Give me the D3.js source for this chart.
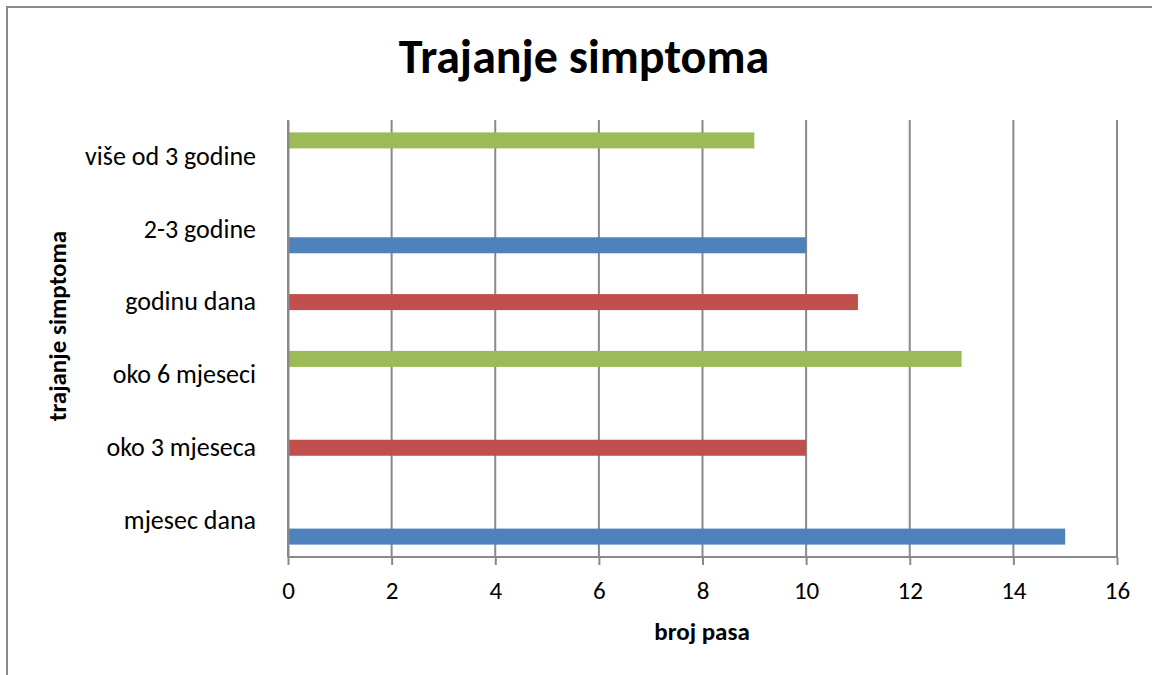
<!DOCTYPE html>
<html>
<head>
<meta charset="utf-8">
<script src="https://cdn.jsdelivr.net/npm/d3@7"></script>
<style>
  body { margin: 0; background: #fff; }
  text { font-family: Carlito, Calibri, Lato, sans-serif; fill: #000; }
</style>
</head>
<body>
<div id="chart-area"></div>
<script>
// data
const categories = ["više od 3 godine", "2-3 godine", "godinu dana", "oko 6 mjeseci", "oko 3 mjeseca", "mjesec dana"];
const seriesNames = ["Niz1", "Niz2", "Niz3"];
const niz1 = [0, 10, 0, 0, 0, 15];   // blue
const niz2 = [0, 0, 11, 0, 10, 0];   // red
const niz3 = [9, 0, 0, 13, 0, 0];    // green
const xTicks = [0, 2, 4, 6, 8, 10, 12, 14, 16];

const seriesValues = [niz1, niz2, niz3];
const colors = { Niz1: "#4F81BD", Niz2: "#C0504D", Niz3: "#9BBB59" };

// layout
const canvas = { width: 1152, height: 675 };
const plot = { left: 288, right: 1117, top: 120, bottom: 557 };
const gridColor = "#898989";

const svg = d3.select("#chart-area").append("svg")
    .attr("width", canvas.width).attr("height", canvas.height);

// chart frame (only top and left edges are inside the picture)
svg.append("path")
    .attr("d", "M7," + (canvas.height + 5) + " L7,7 L" + (canvas.width + 5) + ",7")
    .attr("fill", "none").attr("stroke", gridColor).attr("stroke-width", 2);

// scales
const x = d3.scaleLinear().domain([0, 16]).range([plot.left, plot.right]);
const y = d3.scaleBand().domain(categories).range([plot.top, plot.bottom])
    .paddingInner(0.34).paddingOuter(0.17);
const ySub = d3.scaleBand().domain(["Niz3", "Niz2", "Niz1"]).range([0, y.bandwidth()]);

// gridlines
svg.append("g").selectAll("line").data(xTicks).enter().append("line")
    .attr("x1", d => x(d)).attr("x2", d => x(d))
    .attr("y1", plot.top).attr("y2", plot.bottom)
    .attr("stroke", gridColor).attr("stroke-width", 2);

// bars
const rows = [];
seriesNames.forEach((s, i) => {
    categories.forEach((c, j) => {
        if (seriesValues[i][j] > 0) rows.push({ series: s, category: c, value: seriesValues[i][j] });
    });
});

svg.append("g").selectAll("rect").data(rows).enter().append("rect")
    .attr("x", x(0))
    .attr("y", d => y(d.category) + ySub(d.series))
    .attr("width", d => x(d.value) - x(0))
    .attr("height", ySub.bandwidth())
    .attr("fill", d => colors[d.series]);

// x axis
const xAxisCall = d3.axisBottom(x).tickValues(xTicks).tickSize(8).tickPadding(16).tickFormat(d3.format("d"));
const xAxis = svg.append("g").attr("transform", "translate(0," + plot.bottom + ")").call(xAxisCall);
xAxis.select(".domain").attr("stroke", gridColor).attr("stroke-width", 2)
    .attr("d", "M" + plot.left + ",0H" + plot.right);
xAxis.selectAll(".tick line").attr("stroke", gridColor).attr("stroke-width", 2);
xAxis.selectAll(".tick text").attr("font-size", 25).attr("font-family", null);

// y axis
const yAxisCall = d3.axisLeft(y).tickSize(0).tickPadding(32);
const yAxis = svg.append("g").attr("transform", "translate(" + plot.left + ",0)").call(yAxisCall);
yAxis.select(".domain").attr("stroke", gridColor).attr("stroke-width", 2);
yAxis.selectAll(".tick text").attr("font-size", 26).attr("font-family", null);

// titles
svg.append("text").attr("x", 584).attr("y", 73).attr("text-anchor", "middle")
    .attr("font-size", 48).attr("font-weight", "bold").text("Trajanje simptoma");

svg.append("text").attr("x", 702).attr("y", 640).attr("text-anchor", "middle")
    .attr("font-size", 25).attr("font-weight", "bold").text("broj pasa");

svg.append("text").attr("transform", "translate(66,326) rotate(-90)").attr("text-anchor", "middle")
    .attr("font-size", 25).attr("font-weight", "bold").text("trajanje simptoma");
</script>
</body>
</html>
